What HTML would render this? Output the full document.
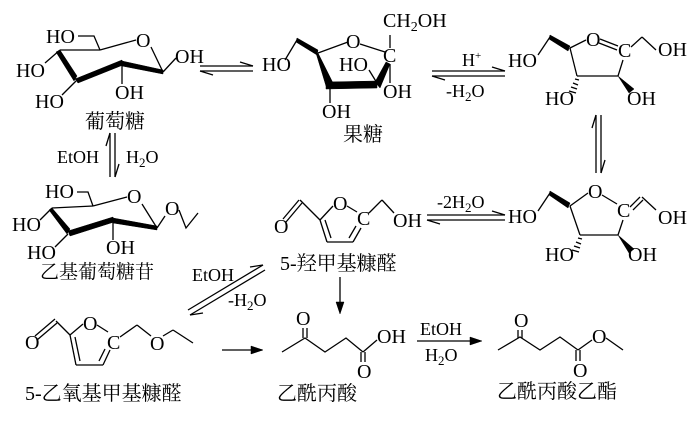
<!DOCTYPE html>
<html><head><meta charset="utf-8"><style>
html,body{margin:0;padding:0;background:#fff;}
svg{display:block;}
.t{font-family:"Liberation Serif",serif;font-size:20px;fill:#000;}
.s{font-family:"Liberation Serif",serif;font-size:18px;fill:#000;}
.c{font-family:"Liberation Serif","Noto Serif CJK SC",serif;font-size:20px;fill:#000;}
line,polyline{stroke:#000;stroke-width:1.3;fill:none;}
polygon{fill:#000;stroke:#000;stroke-width:0.5;}
</style></head><body>
<svg width="700" height="421" viewBox="0 0 700 421" xmlns="http://www.w3.org/2000/svg">
<!-- Glucose -->
<text class="t" x="46" y="43">HO</text>
<polyline points="78,36 94,36 100,50"/>
<line x1="100" y1="50" x2="136" y2="40"/>
<text class="t" x="136" y="47">O</text>
<line x1="151" y1="47" x2="163" y2="72"/>
<line x1="100" y1="50" x2="60" y2="50"/>
<polygon points="60,50 77,76 74,81 56,52"/>
<polygon points="75,79 122,60 123,65 78,83"/>
<polygon points="122,61 163,70 163,74 122,66"/>
<line x1="163" y1="72" x2="176" y2="58"/>
<text class="t" x="175" y="63">OH</text>
<line x1="60" y1="50" x2="45" y2="63"/>
<text class="t" x="16" y="77">HO</text>
<line x1="76" y1="81" x2="62" y2="95"/>
<text class="t" x="35" y="108">HO</text>
<line x1="122" y1="64" x2="122" y2="84"/>
<text class="t" x="115" y="99">OH</text>
<text class="c" x="85" y="128">葡萄糖</text>
<!-- eq glucose-fructose -->
<line x1="200" y1="66" x2="253" y2="66"/><polyline points="240,62 253,66"/>
<line x1="200" y1="71" x2="253" y2="71"/><polyline points="200,71 213,75"/>
<!-- EtOH / H2O vertical -->
<line x1="110" y1="133" x2="110" y2="177"/><polyline points="110,133 106,146"/>
<line x1="115" y1="133" x2="115" y2="177"/><polyline points="115,177 119,164"/>
<text class="s" x="57" y="163">EtOH</text>
<text class="s" x="126" y="163">H<tspan font-size="13" dy="4">2</tspan><tspan dy="-4">O</tspan></text>
<!-- Fructose -->
<text class="t" x="262" y="71">HO</text>
<polyline points="285,60 297,40"/>
<polygon points="297,38 318,50 317,55 296,42"/>
<line x1="318" y1="53" x2="348" y2="42"/>
<text class="t" x="346" y="48">O</text>
<line x1="360" y1="44" x2="385" y2="52"/>
<text class="t" x="383" y="62">C</text>
<polygon points="318,53 334,85 326,86 316,53"/>
<polygon points="326,82 377,81 377,88 326,89"/>
<polygon points="375,82 386,62 390,64 380,88"/>
<line x1="377" y1="83" x2="369" y2="70"/>
<text class="t" x="339" y="71">HO</text>
<line x1="330" y1="88" x2="330" y2="103"/>
<text class="t" x="322" y="118">OH</text>
<line x1="390" y1="35" x2="390" y2="48"/>
<line x1="390" y1="64" x2="390" y2="83"/>
<text class="t" x="383" y="98">OH</text>
<text class="t" x="383" y="27">CH<tspan font-size="14" dy="4">2</tspan><tspan dy="-4">OH</tspan></text>
<text class="c" x="343" y="141">果糖</text>
<!-- H+ arrow -->
<line x1="432" y1="71" x2="505" y2="71"/><polyline points="492,67 505,71"/>
<line x1="432" y1="76" x2="505" y2="76"/><polyline points="432,76 445,80"/>
<text class="s" x="462" y="66">H<tspan font-size="11" dy="-7">+</tspan></text>
<text class="s" x="446" y="97">-H<tspan font-size="13" dy="4">2</tspan><tspan dy="-4">O</tspan></text>
<!-- top-right furanose -->
<text class="t" x="508" y="67">HO</text>
<line x1="538" y1="55" x2="550" y2="37"/>
<polygon points="550,35 570,46 568,51 549,39"/>
<line x1="570" y1="48" x2="586" y2="40"/>
<text class="t" x="586" y="46">O</text>
<line x1="600" y1="39" x2="618" y2="46"/><line x1="599" y1="43" x2="617" y2="50"/>
<text class="t" x="618" y="57">C</text>
<line x1="570" y1="48" x2="577" y2="76"/>
<line x1="577" y1="76" x2="618" y2="76"/>
<line x1="618" y1="76" x2="623" y2="60"/>
<line x1="631" y1="47" x2="642" y2="37"/>
<line x1="642" y1="37" x2="656" y2="50"/>
<text class="t" x="658" y="56">OH</text>
<g stroke="#000" stroke-width="1"><line x1="575" y1="79" x2="579" y2="80"/><line x1="573" y1="83" x2="578" y2="85"/><line x1="571" y1="87" x2="577" y2="89"/><line x1="569" y1="91" x2="576" y2="93"/></g>
<text class="t" x="545" y="105">HO</text>
<polygon points="618,76 634,89 629,93"/>
<text class="t" x="627" y="105">OH</text>
<!-- vertical eq right -->
<line x1="596" y1="115" x2="596" y2="173"/><polyline points="596,115 592,128"/>
<line x1="601" y1="115" x2="601" y2="173"/><polyline points="601,173 605,160"/>
<!-- bottom-right enol furanose -->
<text class="t" x="508" y="223">HO</text>
<line x1="538" y1="211" x2="550" y2="193"/>
<polygon points="550,191 570,203 568,208 549,195"/>
<line x1="570" y1="206" x2="588" y2="193"/>
<text class="t" x="588" y="198">O</text>
<line x1="602" y1="195" x2="617" y2="204"/>
<text class="t" x="617" y="217">C</text>
<line x1="630" y1="207" x2="640" y2="197"/><line x1="633" y1="210" x2="643" y2="200"/>
<line x1="642" y1="197" x2="656" y2="210"/>
<text class="t" x="658" y="224">OH</text>
<line x1="570" y1="206" x2="580" y2="235"/>
<line x1="580" y1="235" x2="618" y2="235"/>
<line x1="618" y1="235" x2="623" y2="220"/>
<g stroke="#000" stroke-width="1"><line x1="578" y1="238" x2="582" y2="239"/><line x1="576" y1="242" x2="581" y2="244"/><line x1="574" y1="246" x2="580" y2="248"/><line x1="572" y1="250" x2="579" y2="252"/></g>
<text class="t" x="545" y="261">HO</text>
<polygon points="618,235 634,249 629,253"/>
<text class="t" x="628" y="261">OH</text>
<!-- -2H2O arrow -->
<line x1="427" y1="215" x2="505" y2="215"/><polyline points="492,211 505,215"/>
<line x1="427" y1="220" x2="505" y2="220"/><polyline points="427,220 440,224"/>
<text class="s" x="437" y="208">-2H<tspan font-size="13" dy="4">2</tspan><tspan dy="-4">O</tspan></text>
<!-- HMF -->
<text class="t" x="274" y="233">O</text>
<line x1="283" y1="219" x2="299" y2="200"/><line x1="286" y1="222" x2="302" y2="203"/>
<line x1="300" y1="200" x2="320" y2="220"/>
<line x1="320" y1="220" x2="333" y2="206"/>
<text class="t" x="333" y="210">O</text>
<line x1="347" y1="206" x2="357" y2="212"/>
<text class="t" x="357" y="225">C</text>
<line x1="320" y1="220" x2="327" y2="242"/><line x1="325" y1="220" x2="331" y2="238"/>
<line x1="327" y1="242" x2="353" y2="242"/>
<line x1="353" y1="242" x2="361" y2="228"/><line x1="349" y1="238" x2="356" y2="226"/>
<line x1="369" y1="213" x2="382" y2="200"/>
<line x1="382" y1="200" x2="394" y2="213"/>
<text class="t" x="393" y="227">OH</text>
<text class="c" x="280" y="270">5-羟甲基糠醛</text>
<!-- Ethyl glucoside -->
<text class="t" x="45" y="198">HO</text>
<polyline points="77,192 88,192 93,206"/>
<line x1="93" y1="206" x2="127" y2="197"/>
<text class="t" x="127" y="203">O</text>
<line x1="142" y1="204" x2="157" y2="228"/>
<line x1="93" y1="206" x2="52" y2="208"/>
<polygon points="52,208 70,229 67,234 49,210"/>
<polygon points="68,231 113,217 114,222 70,236"/>
<polygon points="113,218 157,226 157,230 113,223"/>
<line x1="157" y1="228" x2="165" y2="216"/>
<text class="t" x="165" y="215">O</text>
<polyline points="179,210 186,228 198,213"/>
<line x1="52" y1="208" x2="40" y2="220"/>
<text class="t" x="12" y="231">HO</text>
<line x1="68" y1="234" x2="55" y2="247"/>
<text class="t" x="27" y="259">HO</text>
<line x1="113" y1="221" x2="113" y2="240"/>
<text class="t" x="106" y="254">OH</text>
<text class="c" x="40" y="278" style="font-size:19px">乙基葡萄糖苷</text>
<!-- diagonal arrow -->
<line x1="188" y1="310" x2="263" y2="265"/><polyline points="263,265 250,267"/>
<line x1="190" y1="315" x2="265" y2="270"/><polyline points="190,315 203,313"/>
<text class="s" x="192" y="281">EtOH</text>
<text class="s" x="228" y="306">-H<tspan font-size="13" dy="4">2</tspan><tspan dy="-4">O</tspan></text>
<!-- EMF -->
<text class="t" x="25" y="349">O</text>
<line x1="35" y1="336" x2="55" y2="319"/><line x1="37" y1="340" x2="57" y2="323"/>
<line x1="56" y1="321" x2="70" y2="335"/>
<line x1="70" y1="335" x2="83" y2="324"/>
<text class="t" x="83" y="330">O</text>
<line x1="97" y1="325" x2="108" y2="332"/>
<text class="t" x="107" y="349">C</text>
<line x1="70" y1="335" x2="76" y2="365"/><line x1="75" y1="337" x2="80" y2="361"/>
<line x1="76" y1="365" x2="103" y2="365"/>
<line x1="103" y1="365" x2="110" y2="350"/><line x1="99" y1="361" x2="105" y2="349"/>
<line x1="120" y1="337" x2="137" y2="325"/>
<line x1="137" y1="325" x2="151" y2="336"/>
<text class="t" x="150" y="350">O</text>
<line x1="163" y1="336" x2="173" y2="330"/>
<line x1="173" y1="330" x2="193" y2="343"/>
<text class="c" x="25" y="400">5-乙氧基甲基糠醛</text>
<!-- arrow EMF -> LA -->
<line x1="222" y1="350" x2="262" y2="350"/><polygon points="263,350 251,346 251,354"/>
<!-- HMF -> LA -->
<line x1="340" y1="277" x2="340" y2="312"/><polygon points="340,314 336,302 344,302"/>
<!-- Levulinic acid -->
<text class="t" x="296" y="325">O</text>
<line x1="303" y1="328" x2="303" y2="338"/><line x1="307" y1="328" x2="307" y2="338"/>
<polyline points="282,352 305,338 325,352 346,338 363,352"/>
<line x1="363" y1="352" x2="377" y2="340"/>
<text class="t" x="377" y="343">OH</text>
<line x1="361" y1="352" x2="361" y2="362"/><line x1="365" y1="352" x2="365" y2="362"/>
<text class="t" x="357" y="378">O</text>
<text class="c" x="277" y="400">乙酰丙酸</text>
<!-- LA -> ester -->
<line x1="417" y1="341" x2="480" y2="341"/><polygon points="482,341 470,337 470,345"/>
<text class="s" x="420" y="335">EtOH</text>
<text class="s" x="425" y="361">H<tspan font-size="13" dy="4">2</tspan><tspan dy="-4">O</tspan></text>
<!-- Ethyl levulinate -->
<text class="t" x="514" y="327">O</text>
<line x1="518" y1="330" x2="518" y2="338"/><line x1="522" y1="330" x2="522" y2="338"/>
<polyline points="498,350 520,337 540,350 560,337 578,350"/>
<line x1="578" y1="350" x2="592" y2="340"/>
<text class="t" x="592" y="343">O</text>
<line x1="606" y1="338" x2="623" y2="350"/>
<line x1="576" y1="350" x2="576" y2="361"/><line x1="580" y1="350" x2="580" y2="361"/>
<text class="t" x="573" y="377">O</text>
<text class="c" x="497" y="398">乙酰丙酸乙酯</text>
</svg>
</body></html>
